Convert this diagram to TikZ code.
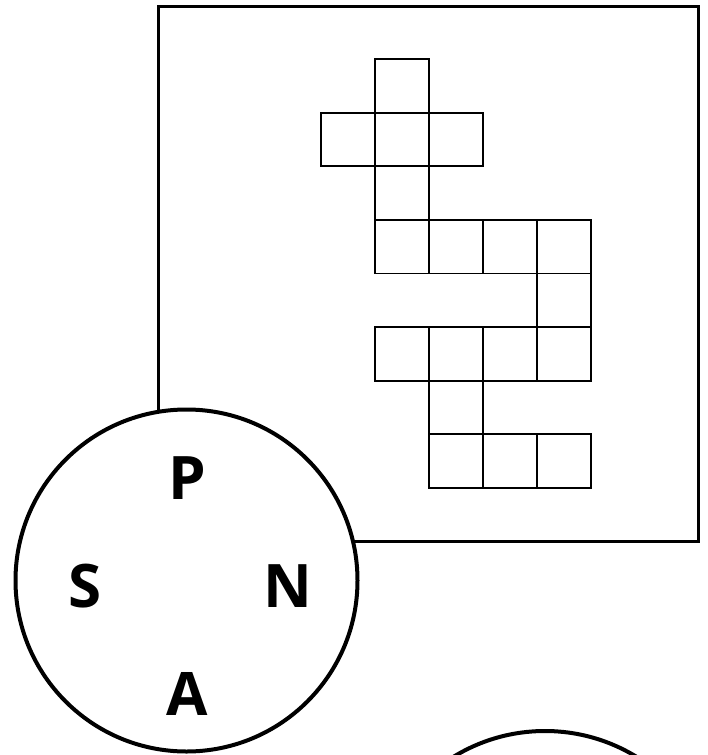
\documentclass[tikz,border=0pt]{standalone}
\usepackage{fontspec}
\setmainfont{Open Sans}
\begin{document}
\begin{tikzpicture}[x=1pt,y=-1pt,
  frame/.style={draw=black,line width=3pt},
  cell/.style={draw=black,line width=1.8pt},
  ring/.style={draw=black,fill=white,line width=4pt},
  letter/.style={font=\fontsize{60}{60}\selectfont\bfseries,inner sep=0pt}]
\useasboundingbox (0,0) rectangle (707,755);
\clip (0,0) rectangle (707,755);
% outer square
\draw[frame] (158,6) rectangle (698,541);
% grid cells
\foreach \c/\r in {1/0, 0/1,1/1,2/1, 1/2, 1/3,2/3,3/3,4/3, 4/4, 1/5,2/5,3/5,4/5, 2/6, 2/7,3/7,4/7}{
  \draw[cell] ({321+54*\c},{59+53.6*\r}) rectangle ++(54,53.6);
}
% circles
\node[ring,circle,minimum size=342pt,inner sep=0pt] (c1) at (186.5,580.5) {};
\node[ring,circle,minimum size=350pt,inner sep=0pt] (c2) at (545,906) {};
% letters
\node[letter] (P) at (187,478) {P};
\node[letter] (S) at (85,586) {S};
\node[letter] (N) at (288,586) {N};
\node[letter] (A) at (187,694) {A};
\end{tikzpicture}
\end{document}
